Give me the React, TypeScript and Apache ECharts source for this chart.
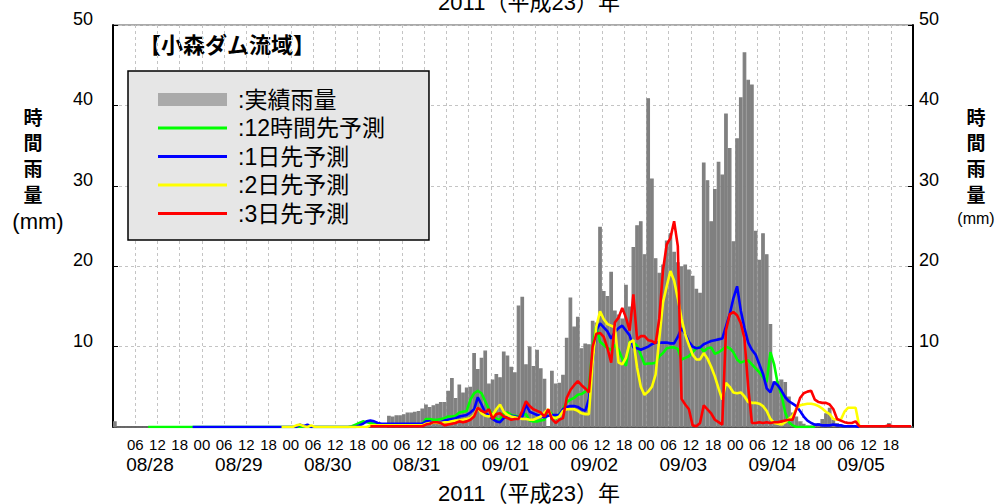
import React, { useEffect, useRef } from 'react';
import * as echarts from 'echarts';

// ---- categories ----
const DAY_LABELS = ['08/28', '08/29', '08/30', '08/31', '09/01', '09/02', '09/03', '09/04', '09/05'];
const Y_TITLE_CHARS = ['時', '間', '雨', '量'];

// ---- hourly observed rainfall (mm), 08/28 00:00 - 09/06 00:00 ----
const RAIN: number[] = [
  // 08/28
  0.7, 0, 0, 0, 0, 0, 0, 0, 0, 0, 0, 0, 0, 0, 0, 0, 0, 0, 0, 0, 0, 0, 0, 0,
  // 08/29
  0, 0, 0, 0, 0, 0, 0, 0, 0, 0, 0, 0, 0, 0, 0, 0, 0, 0, 0, 0, 0, 0, 0, 0,
  // 08/30
  0, 0, 0, 0, 0, 0, 0, 0, 0, 0, 0, 0, 0, 0, 0, 0, 0, 0, 0, 0, 0, 0, 0, 0,
  // 08/31
  0, 0, 1.4, 1.3, 1.45, 1.45, 1.6, 1.8, 1.8, 1.9, 2.0, 2.3, 2.8, 2.5, 2.7, 2.9, 3.1, 3.1, 4.5, 6.1, 3.6, 5.3, 4.3, 4.9,
  // 09/01
  5.0, 9.2, 7.2, 8.6, 9.5, 5.4, 5.9, 6.6, 6.2, 9.4, 8.9, 7.5, 6.8, 15.1, 16.2, 7.8, 10.0, 7.6, 9.6, 7.3, 6.0, 0, 7.0, 5.4,
  // 09/02
  5.5, 6.5, 11.1, 16.1, 12.5, 13.7, 9.8, 10.4, 10.3, 13.2, 13.0, 24.9, 16.9, 16.3, 19.3, 14.5, 14.0, 13.5, 17.7, 15.0, 22.4, 25.1, 25.6, 21.5,
  // 09/03
  40.9, 30.9, 21.0, 19.2, 20.2, 23.2, 24.1, 21.8, 20.5, 20.0, 20.2, 19.6, 18.8, 17.2, 16.7, 32.9, 30.7, 25.6, 29.6, 33.0, 31.4, 39.0, 34.7, 23.1,
  // 09/04
  35.9, 41.0, 46.6, 43.2, 42.6, 24.4, 20.8, 24.1, 21.5, 12.8, 5.7, 5.7, 5.9, 5.6, 3.8, 1.8, 1.3, 0.7, 0.4, 0.2, 0.2, 0.3, 0.5, 1.0,
  // 09/05
  1.7, 2.4, 0.9, 0.5, 0.3, 0.2, 0.1, 0, 0, 0, 0, 0, 0, 0, 0, 0, 0, 0.5, 0, 0, 0, 0, 0, 0,
];

// ---- forecasts (mm/h); each list begins at the hour index given by its START ----
const FC12H_START = 9;
const FC12H: number[] = [
  0, 0, 0, 0, 0, 0, 0, 0, 0, 0, 0, 0, 0, 0, 0,
  0, 0, 0, 0, 0, 0, 0, 0, 0, 0, 0, 0, 0, 0, 0, 0, 0, 0, 0, 0, 0, 0, 0, 0,
  0, 0, 0, 0, 0, 0, 0, 0, 0, 0, 0, 0, 0, 0, 0, 0, 0.1, 0.3, 0.5, 0.7, 0.6, 0.5, 0.4, 0.4,
  0.3, 0.3, 0.3, 0.3, 0.3, 0.3, 0.3, 0.3, 0.3, 0.3, 0.3, 0.3, 1.0, 1.0, 0.9, 0.9, 1.0, 1.1, 1.3, 1.3, 1.4, 1.8, 1.9, 2.0,
  3.4, 4.2, 4.5, 4.2, 3.2, 2.2, 1.5, 1.0, 0.9, 1.7, 1.8, 1.5, 1.4, 1.3, 1.5, 1.6, 0.8, 0.7, 0.7, 0.8, 0.9, 2.1, 1.6, 1.0,
  1.6, 2.2, 3.1, 3.4, 3.6, 4.0, 4.1, 4.4, 4.9, 10.0, 12.6, 10.6, 10.2, 9.8, 9.6, 10.2, 9.6, 8.5, 7.6, 10.6, 10.5, 10.1, 9.0, 7.8,
  7.9, 7.9, 8.0, 8.8, 9.2, 9.8, 9.9, 9.9, 9.7, 8.4, 8.6, 8.8, 9.3, 9.8, 10.0, 9.4, 9.8, 9.9, 9.1, 9.3, 9.6, 10.0, 9.8, 9.3,
  8.4, 8.0, 8.2, 8.3, 7.8, 7.3, 6.8, 6.2, 5.6, 9.3, 7.8, 5.3, 4.0, 1.8, 0.6, 0.2, 0, 0, 0, 0, 0, 0,
];

const FC1D_START = 21;
const FC1D: number[] = [
  0, 0, 0,
  0, 0, 0, 0, 0, 0, 0, 0, 0, 0, 0, 0, 0, 0, 0, 0, 0, 0, 0, 0, 0, 0, 0, 0,
  0, 0, 0.3, 0.1, 0.3, 0, 0, 0, 0, 0, 0, 0, 0, 0, 0, 0, 0, 0, 0.2, 0.4, 0.7, 0.8, 0.7, 0.5,
  0.4, 0.4, 0.4, 0.4, 0.4, 0.4, 0.4, 0.4, 0.4, 0.4, 0.4, 0.4, 0.7, 0.7, 0.5, 0.5, 0.6, 0.8, 0.9, 1.0, 1.1, 1.3, 1.4, 1.5,
  1.8, 2.2, 3.7, 2.8, 1.8, 1.4, 1.0, 0.7, 0.6, 1.1, 1.3, 1.4, 1.3, 1.2, 1.3, 2.8, 1.9, 1.7, 1.5, 1.4, 1.2, 1.4, 1.5, 1.5,
  1.5, 2.2, 2.5, 2.6, 2.6, 2.5, 2.2, 2.0, 3.5, 8.0, 12.0, 12.9, 12.4, 11.9, 11.0, 11.8, 12.3, 12.6, 12.0, 11.4, 9.9, 9.8, 9.6, 9.8,
  10.0, 10.3, 10.5, 10.5, 10.5, 10.5, 10.4, 10.4, 11.2, 12.3, 11.6, 10.6, 10.0, 9.8, 9.9, 10.3, 10.5, 10.7, 10.8, 10.9, 11.0, 12.5, 14.0, 16.0,
  17.5, 14.5, 12.3, 10.5, 9.6, 9.0, 7.8, 6.6, 4.8, 4.3, 5.6, 5.2, 4.5, 3.7, 3.2, 2.9, 2.6, 2.0, 1.3, 0.8, 0.5, 0.3, 0.3, 0.2,
  0.2, 0.2, 0.3, 0.2, 0.2, 0.1, 0.1, 0.1, 0.1, 0,
];

const FC2D_START = 45;
const FC2D: number[] = [
  0, 0, 0,
  0, 0.2, 0.3, 0.1, 0, 0.2, 0, 0, 0, 0, 0, 0, 0, 0, 0, 0, 0, 0, 0, 0, 0, 0.2, 0.2, 0.2,
  0.2, 0.2, 0.2, 0.2, 0.2, 0.2, 0.2, 0.2, 0.2, 0.2, 0.2, 0.2, 0.4, 0.5, 0.5, 0.5, 0.5, 0.6, 0.6, 0.7, 0.8, 0.8, 0.9, 1.0,
  1.1, 1.5, 2.4, 1.7, 1.4, 1.3, 1.5, 2.2, 2.8, 1.9, 1.5, 1.3, 1.2, 1.1, 1.0, 1.0, 0.9, 0.9, 1.1, 1.3, 1.8, 2.2, 1.2, 1.1,
  1.3, 2.0, 2.2, 2.2, 2.2, 2.0, 1.7, 1.6, 1.6, 8.0, 12.5, 14.4, 13.4, 12.8, 12.6, 12.4, 8.0, 7.8, 8.6, 10.5, 10.8, 7.4, 5.0, 4.0,
  4.4, 5.0, 6.5, 11.0, 15.5, 17.5, 19.4, 18.2, 16.0, 13.5, 11.5, 10.2, 9.0, 8.4, 8.4, 9.2, 8.5, 7.5, 6.3, 4.8, 3.4, 5.5, 5.0, 4.3,
  4.2, 4.3, 3.8, 3.1, 3.0, 3.0, 2.9, 2.6, 2.0, 1.0, 0.5, 0.4, 0.3, 0.6, 1.0, 1.4, 2.3, 2.7, 2.8, 2.9, 2.9, 2.8, 2.6, 2.3,
  1.9, 1.6, 1.0, 0.9, 0.9, 1.9, 2.4, 2.4, 2.4, 0.1,
];

const FC3D_START = 69;
const FC3D: number[] = [
  0.1, 0.1, 0.1,
  0.1, 0.1, 0.1, 0.1, 0.1, 0.1, 0.1, 0.1, 0.1, 0.1, 0.1, 0.1, 0.3, 0.4, 0.6, 0.6, 0.5, 0.2, 0.3, 0.4, 0.5, 0.7, 0.6, 0.7,
  0.9, 1.3, 2.4, 2.0, 1.8, 2.2, 1.0, 1.6, 1.7, 1.3, 1.1, 0.9, 1.0, 1.0, 2.0, 3.2, 2.6, 2.2, 2.0, 1.8, 1.3, 2.2, 1.0, 0.5,
  0.9, 1.1, 3.6, 4.6, 5.2, 5.7, 5.2, 4.8, 4.3, 10.0, 11.6, 11.7, 11.2, 9.8, 8.0, 13.0, 13.6, 14.8, 13.6, 12.0, 16.5, 10.9, 11.3, 11.3,
  10.8, 10.7, 10.4, 13.5, 19.5, 22.7, 23.5, 25.6, 22.5, 3.5, 2.8, 2.2, 0.2, 0.1, 0.5, 2.7, 2.2, 1.7, 0.9, 0.6, 0.3, 12.0, 14.0, 14.3,
  13.9, 12.9, 11.0, 5.0, 0.5, 0.5, 0.6, 0.5, 0.6, 0.5, 0.6, 0.6, 0.7, 0.8, 0.9, 0.9, 2.2, 3.6, 4.2, 4.4, 4.5, 3.4, 3.1, 3.0,
  3.0, 2.8, 2.2, 1.0, 0.8, 0.6, 0.5, 0.5, 0.7, 0.1, 0.1, 0.1, 0.1, 0.1, 0.1, 0.1, 0.1, 0.2, 0.1, 0.1, 0.1, 0.1, 0.1, 0.1,
];

const SERIES_NAMES = ['実績雨量', '12時間先予測', '1日先予測', '2日先予測', '3日先予測'];
const LINE_COLORS = ['#00ff00', '#0000ff', '#ffff00', '#ff0000'];
const Y_MAX = 50;
const Y_INTERVAL = 10;

const FONT = '"Liberation Sans", "Noto Sans CJK JP", sans-serif';
const CJK = '"Noto Sans CJK JP", "Liberation Sans", sans-serif';

// place a forecast list on the hourly category axis
function placeFrom(start: number, values: number[]): (number | null)[] {
  const lead: (number | null)[] = new Array(start).fill(null);
  return lead.concat(values);
}

// stacked vertical axis title, one glyph per row
function verticalTitle(cx: number, firstY: number, step: number) {
  return Y_TITLE_CHARS.map((ch, i) => ({
    type: 'text',
    x: cx,
    y: firstY + i * step,
    style: {
      text: ch, fontSize: 19, fontWeight: 'bold', fontFamily: CJK, fill: '#000',
      textAlign: 'center', textVerticalAlign: 'middle',
    },
  }));
}

function buildOption() {
  const hourCats = RAIN.map((_, i) => String(i));
  const hourCount = RAIN.length;
  const forecasts = [
    placeFrom(FC12H_START, FC12H),
    placeFrom(FC1D_START, FC1D),
    placeFrom(FC2D_START, FC2D),
    placeFrom(FC3D_START, FC3D),
  ];

  const gridLine = { show: true, lineStyle: { color: '#c4c4c4', width: 1, type: [3, 3] } };

  const yAxisBase = {
    type: 'value',
    min: 0,
    max: Y_MAX,
    interval: Y_INTERVAL,
    axisLine: { show: true, lineStyle: { color: '#000', width: 2 } },
    axisTick: { show: true, inside: true, length: 5, lineStyle: { color: '#000', width: 1 } },
  };

  const yLabel = { fontSize: 18, color: '#000', showMinLabel: false, verticalAlign: 'bottom', lineHeight: 12 };

  const legendIconBar = 'path://M0,0H69V13H0Z';
  const legendIconLine = 'path://M0,0H69V3H0Z';

  return {
    animation: false,
    backgroundColor: '#ffffff',
    textStyle: { fontFamily: FONT },
    grid: {
      left: 113,
      right: 87,
      top: 25,
      bottom: 77,
      show: true,
      borderColor: '#555',
      borderWidth: 1,
      containLabel: false,
      outerBoundsMode: 'none',
    },
    legend: {
      orient: 'vertical',
      left: 128,
      top: 71,
      itemWidth: 69,
      itemHeight: 13,
      itemGap: 5.5,
      padding: [17, 44, 15, 30],
      backgroundColor: '#e6e6e6',
      borderColor: '#000',
      borderWidth: 1.5,
      borderRadius: 0,
      selectedMode: false,
      symbolKeepAspect: true,
      textStyle: { fontSize: 23, color: '#000', fontFamily: FONT, padding: [0, 0, 0, 6] },
      formatter: (n: string) => ':' + n,
      data: [
        { name: SERIES_NAMES[0], icon: legendIconBar, itemStyle: { color: '#aaaaaa', borderWidth: 0 } },
        { name: SERIES_NAMES[1], icon: legendIconLine },
        { name: SERIES_NAMES[2], icon: legendIconLine },
        { name: SERIES_NAMES[3], icon: legendIconLine },
        { name: SERIES_NAMES[4], icon: legendIconLine },
      ],
    },
    xAxis: [
      { type: 'category', data: hourCats, boundaryGap: true, show: false },
      {
        type: 'value',
        min: 0,
        max: hourCount,
        interval: 6,
        position: 'bottom',
        axisLine: { show: true, lineStyle: { color: '#333', width: 1.5 } },
        axisTick: { show: false },
        axisLabel: {
          fontSize: 15,
          color: '#000',
          margin: 10,
          showMinLabel: false,
          showMaxLabel: false,
          formatter: (v: number) => String(v % 24).padStart(2, '0'),
        },
        splitLine: gridLine,
      },
      {
        type: 'category',
        data: DAY_LABELS,
        boundaryGap: true,
        position: 'bottom',
        axisLine: { show: false },
        axisTick: { show: false },
        splitLine: { show: false },
        axisLabel: { fontSize: 19, color: '#000', margin: 28, interval: 0, padding: [0, 15, 0, 0] },
      },
    ],
    yAxis: [
      {
        ...yAxisBase,
        position: 'left',
        axisLabel: { ...yLabel, margin: 20 },
        splitLine: gridLine,
      },
      {
        ...yAxisBase,
        position: 'right',
        axisLabel: { ...yLabel, margin: 6 },
        splitLine: { show: false },
      },
    ],
    series: [
      {
        name: SERIES_NAMES[0],
        type: 'bar',
        xAxisIndex: 0,
        yAxisIndex: 0,
        data: RAIN,
        barCategoryGap: '0%',
        barGap: '0%',
        // a thin same-colour outline closes the hairline seams between neighbouring bars
        itemStyle: { color: '#808080', borderColor: '#808080', borderWidth: 1.2 },
        z: 2,
      },
      ...forecasts.map((data, i) => ({
        name: SERIES_NAMES[i + 1],
        type: 'line',
        xAxisIndex: 0,
        yAxisIndex: 0,
        data,
        symbol: 'none',
        showSymbol: false,
        connectNulls: false,
        lineStyle: { color: LINE_COLORS[i], width: 2.6 },
        itemStyle: { color: LINE_COLORS[i], borderWidth: 0 },
        z: 3 + i,
      })),
    ],
    graphic: [
      ...verticalTitle(33, 116, 25.7),
      {
        type: 'text', x: 38, y: 221,
        style: {
          text: '(mm)', fontSize: 22, fontFamily: FONT, fill: '#000',
          textAlign: 'center', textVerticalAlign: 'middle',
        },
      },
      ...verticalTitle(976, 116, 25.7),
      {
        type: 'text', x: 976, y: 218,
        style: {
          text: '(mm)', fontSize: 16, fontFamily: FONT, fill: '#000',
          textAlign: 'center', textVerticalAlign: 'middle',
        },
      },
      {
        type: 'text', x: 139, y: 43,
        style: {
          text: '【小森ダム流域】', fontSize: 22, fontWeight: 'bold', fontFamily: CJK, fill: '#000',
          textAlign: 'left', textVerticalAlign: 'middle',
        },
      },
      {
        type: 'text', x: 529, y: 493,
        style: {
          text: '2011（平成23）年', fontSize: 22, fontFamily: FONT, fill: '#000',
          textAlign: 'center', textVerticalAlign: 'middle',
        },
      },
      {
        type: 'text', x: 529, y: 2,
        style: {
          text: '2011（平成23）年', fontSize: 22, fontFamily: FONT, fill: '#000',
          textAlign: 'center', textVerticalAlign: 'middle',
        },
      },
    ],
  };
}

export default function App() {
  const ref = useRef<HTMLDivElement>(null);
  useEffect(() => {
    if (!ref.current) return;
    const chart = echarts.init(ref.current, null, { renderer: 'svg' });
    chart.setOption(buildOption() as any);
    return () => chart.dispose();
  }, []);
  return (
    <div
      ref={ref}
      style={{ position: 'fixed', left: 0, top: 0, width: 1000, height: 504, background: '#fff' }}
    />
  );
}
